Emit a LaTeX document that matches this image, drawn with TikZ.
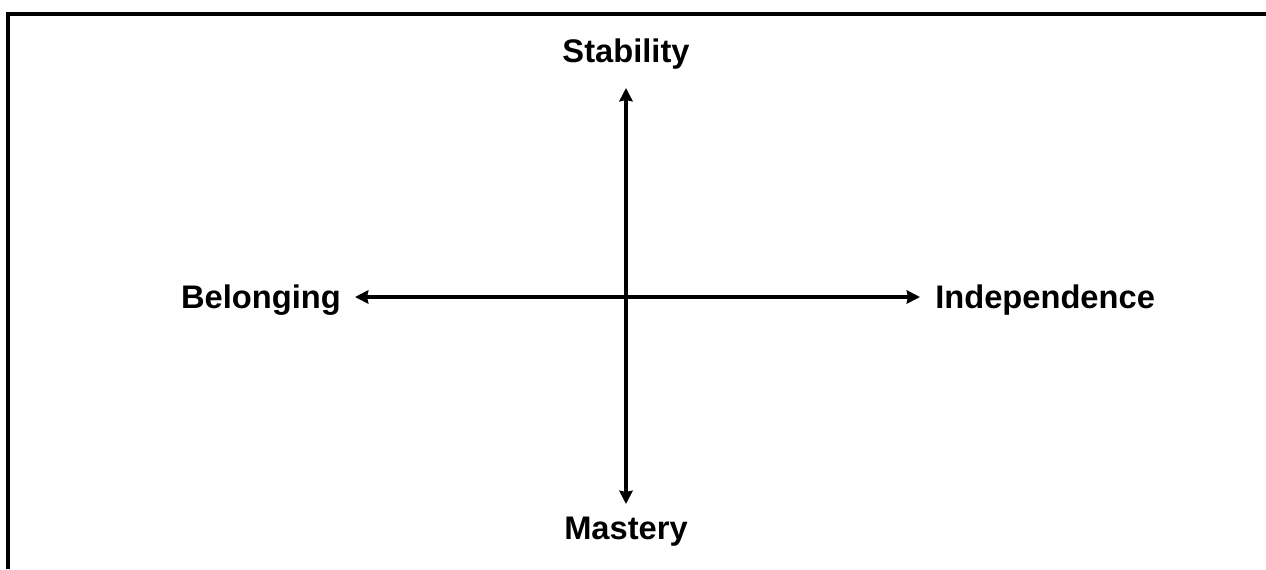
\documentclass[tikz,border=0pt]{standalone}
\usepackage{fontspec}
\setmainfont{Liberation Sans}
\usetikzlibrary{arrows.meta}

\begin{document}
\begin{tikzpicture}[x=0.75pt,y=-0.75pt,
  every node/.style={font=\fontsize{24.5}{28}\selectfont\bfseries, inner sep=0pt},
  axis/.style={line width=2.8pt, {Stealth[length=10pt,width=10pt,inset=1pt]}-{Stealth[length=10pt,width=10pt,inset=1pt]}}]
\useasboundingbox (0,0) rectangle (1266,569);
% frame, only top and left edges
\draw[line width=2.4pt] (8,569) -- (8,14) -- (1266,14);
% axis ends
\coordinate (top) at (626,88);
\coordinate (bot) at (626,504);
\coordinate (lft) at (355,297);
\coordinate (rgt) at (920,297);
% labels
\node[anchor=base] (stab) at (626,62) {Stability};
\node[anchor=base] (mast) at (626,539) {Mastery};
\node[anchor=base east] (belong) at (341,308) {Belonging};
\node[anchor=base west] (indep) at (935,308) {Independence};
% axes
\draw[axis] (top) -- (bot);
\draw[axis] (lft) -- (rgt);
\end{tikzpicture}
\end{document}
